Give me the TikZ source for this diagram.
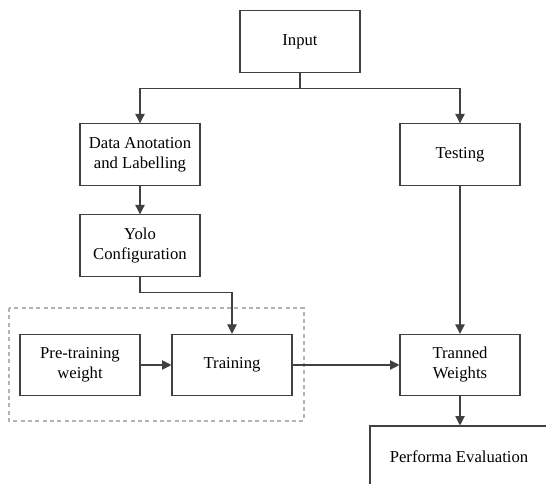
\documentclass[tikz,border=0pt]{standalone}
\usepackage{fontspec}
\setmainfont{Liberation Serif}
\usepackage{tikz}
\usetikzlibrary{positioning,arrows.meta,calc}

\begin{document}
\begin{tikzpicture}[x=0.75pt,y=-0.75pt,
    block/.style={draw=black!75,line width=0.8pt,fill=white,minimum width=90pt,minimum height=46pt,
        align=center,inner sep=2pt,font=\fontsize{12.5}{15}\selectfont},
    link/.style={draw=black!75,line width=0.8pt,-{Triangle[width=7pt,length=7pt]}},
    group/.style={draw=black!30,line width=0.8pt,dash pattern=on 3pt off 2.5pt}]
\clip (0,0) rectangle (546,484);
% dashed frame round the training stage
\draw[group] (9,308) rectangle (304,421);
\node[block] (input) at (300,41.5) {Input};
\node[block] (anno) at (140,154.5) {Data Anotation\\and Labelling};
\node[block] (test) at (460,154.5) {Testing};
\node[block] (yolo) at (140,245.5) {Yolo\\Configuration};
\node[block] (pre) at (80,365) {Pre-training\\weight};
\node[block] (train) at (232,365) {Training};
\node[block] (tranned) at (460,365) {Tranned\\Weights};
\node[block,minimum width=133.5pt,minimum height=46.5pt] (eval) at (459,457) {Performa Evaluation};
% connectors
\draw[link] (input.south) -- ++(0,16) -| (anno.north);
\draw[link] (input.south) -- ++(0,16) -| (test.north);
\draw[link] (anno) -- (yolo);
\draw[link] (yolo.south) -- ++(0,16) -| (train.north);
\draw[link] (pre) -- (train);
\draw[link] (train) -- (tranned);
\draw[link] (test) -- (tranned);
\draw[link] (tranned.south) -- (tranned.south |- eval.north);
\end{tikzpicture}
\end{document}
